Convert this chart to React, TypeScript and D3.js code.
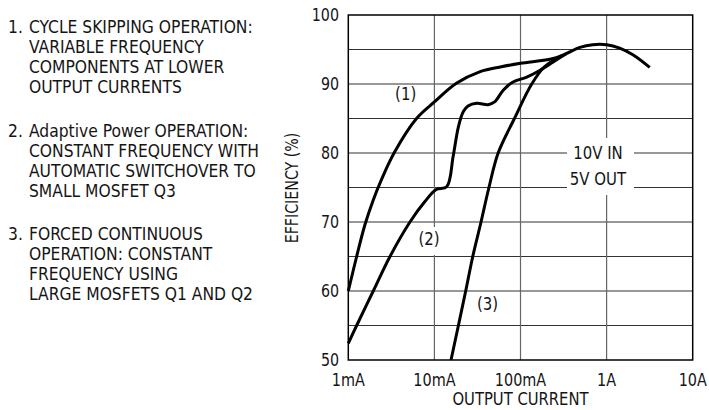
import React from "react";
import * as d3 from "d3";

// Output current (A) and efficiency (%) for each curve
const curve1Current = [0.001, 0.00125, 0.00156, 0.00195, 0.0024, 0.0034, 0.0062, 0.01, 0.018, 0.034, 0.06, 0.1, 0.24, 0.34, 0.49, 0.69, 1.0, 1.42, 2.04, 3.17];
const curve1Eff = [60, 65, 69.6, 73.2, 76, 80, 85, 87.4, 90.1, 91.8, 92.5, 93.0, 93.7, 94.4, 95.3, 95.7, 95.7, 95.2, 94.2, 92.4];

const curve2Current = [0.001, 0.00125, 0.00195, 0.00305, 0.0052, 0.0078, 0.0105, 0.0139, 0.0165, 0.019, 0.0217, 0.0246, 0.031, 0.042, 0.05, 0.063, 0.082, 0.118, 0.169, 0.24, 0.34];
const curve2Eff = [52.4, 55, 60, 65, 70, 73, 74.7, 75.1, 79.5, 83.8, 86, 86.8, 87.2, 87.0, 87.4, 89.1, 90.3, 91.0, 92.0, 93.2, 94.4];

const curve3Current = [0.0156, 0.019, 0.0231, 0.0279, 0.0348, 0.043, 0.055, 0.085, 0.135, 0.19, 0.3];
const curve3Eff = [50, 55, 60, 65, 70, 75, 80, 85, 90, 92.5, 94.1];

const xTickValues = [0.001, 0.01, 0.1, 1, 10];
const xTickLabels = ["1mA", "10mA", "100mA", "1A", "10A"];
const yTickValues = [50, 60, 70, 80, 90, 100];
const yGridValues = [55, 60, 65, 70, 75, 80, 85, 90, 95];

const notes = [
  ["1.", ["CYCLE SKIPPING OPERATION:", "VARIABLE FREQUENCY", "COMPONENTS AT LOWER", "OUTPUT CURRENTS"]],
  ["2.", ["Adaptive Power OPERATION:", "CONSTANT FREQUENCY WITH", "AUTOMATIC SWITCHOVER TO", "SMALL MOSFET Q3"]],
  ["3.", ["FORCED CONTINUOUS", "OPERATION: CONSTANT", "FREQUENCY USING", "LARGE MOSFETS Q1 AND Q2"]],
] as const;
const noteTops = [33.3, 136.7, 240];

const FONT = "'Liberation Sans Narrow', 'DejaVu Sans Condensed', 'Arial Narrow', sans-serif";

type TProps = {
  x: number;
  y: number;
  sx?: number;
  size?: number;
  anchor?: "start" | "middle" | "end";
  rotate?: number;
  children: React.ReactNode;
};
function T({ x, y, sx = 0.92, size = 18, anchor = "start", rotate = 0, children }: TProps) {
  return (
    <text
      transform={`translate(${x},${y}) rotate(${rotate}) scale(${sx},1)`}
      fontSize={size}
      textAnchor={anchor}
      fill="#151515"
    >
      {children}
    </text>
  );
}

export default function App() {
  const left = 348.3, right = 692.7, top = 15, bottom = 360;
  const x = d3.scaleLog().domain([0.001, 10]).range([left, right]);
  const y = d3.scaleLinear().domain([50, 100]).range([bottom, top]);
  const line = d3
    .line<[number, number]>()
    .x((d) => x(d[0]))
    .y((d) => y(d[1]))
    .curve(d3.curveCatmullRom.alpha(0.5));
  const zip = (a: number[], b: number[]) => a.map((v, i) => [v, b[i]] as [number, number]);
  const series = [
    zip(curve1Current, curve1Eff),
    zip(curve2Current, curve2Eff),
    zip(curve3Current, curve3Eff),
  ];

  return (
    <svg width={709} height={410} style={{ position: "absolute", left: 0, top: 0, background: "#fff" }} fontFamily={FONT}>
      <rect width={709} height={410} fill="#fff" />
      {notes.map(([num, lines], i) => (
        <g key={num}>
          <T x={8} y={noteTops[i]} sx={0.96}>{num}</T>
          {lines.map((l, j) => (
            <T key={j} x={29} y={noteTops[i] + j * 20} sx={0.96}>{l}</T>
          ))}
        </g>
      ))}
      {/* grid */}
      {yGridValues.map((v) => (
        <line key={v} x1={left} x2={right} y1={y(v)} y2={y(v)} stroke="#333" strokeWidth={1.2} />
      ))}
      {xTickValues.slice(1, 4).map((v) => (
        <line key={v} x1={x(v)} x2={x(v)} y1={top} y2={bottom} stroke="#666" strokeWidth={1.2} />
      ))}
      {/* label backgrounds */}
      <rect x={388} y={85} width={35} height={18} fill="#fff" />
      <rect x={418} y={227} width={24} height={28} fill="#fff" />
      <rect x={472} y={293} width={32} height={20} fill="#fff" />
      <rect x={567} y={138} width={67} height={57} fill="#fff" />
      <T x={405.7} y={99.5} anchor="middle" size={17.5} sx={0.95}>(1)</T>
      <T x={429} y={245} anchor="middle" size={17.5} sx={0.95}>(2)</T>
      <T x={487.5} y={309.5} anchor="middle" size={17.5} sx={0.95}>(3)</T>
      <T x={598} y={158.5} anchor="middle" size={17.5} sx={0.95}>10V IN</T>
      <T x={598} y={184.5} anchor="middle" size={17.5} sx={0.95}>5V OUT</T>
      {series.map((s, i) => (
        <path key={i} d={line(s) || ""} fill="none" stroke="#000" strokeWidth={3} strokeLinejoin="round" />
      ))}
      <rect x={left} y={top} width={right - left} height={bottom - top} fill="none" stroke="#000" strokeWidth={1.5} />
      {/* axes labels */}
      {yTickValues.map((v) => (
        <T key={v} x={339} y={y(v) + 6.2} anchor="end" sx={0.88}>{v}</T>
      ))}
      {xTickValues.map((v, i) => (
        <T key={v} x={x(v)} y={385.5} anchor="middle" sx={0.89}>{xTickLabels[i]}</T>
      ))}
      <T x={x(0.1)} y={404.5} anchor="middle" size={17.5} sx={0.94}>OUTPUT CURRENT</T>
      <T x={297.5} y={188} anchor="middle" rotate={-90} size={17} sx={0.93}>EFFICIENCY (%)</T>
    </svg>
  );
}
